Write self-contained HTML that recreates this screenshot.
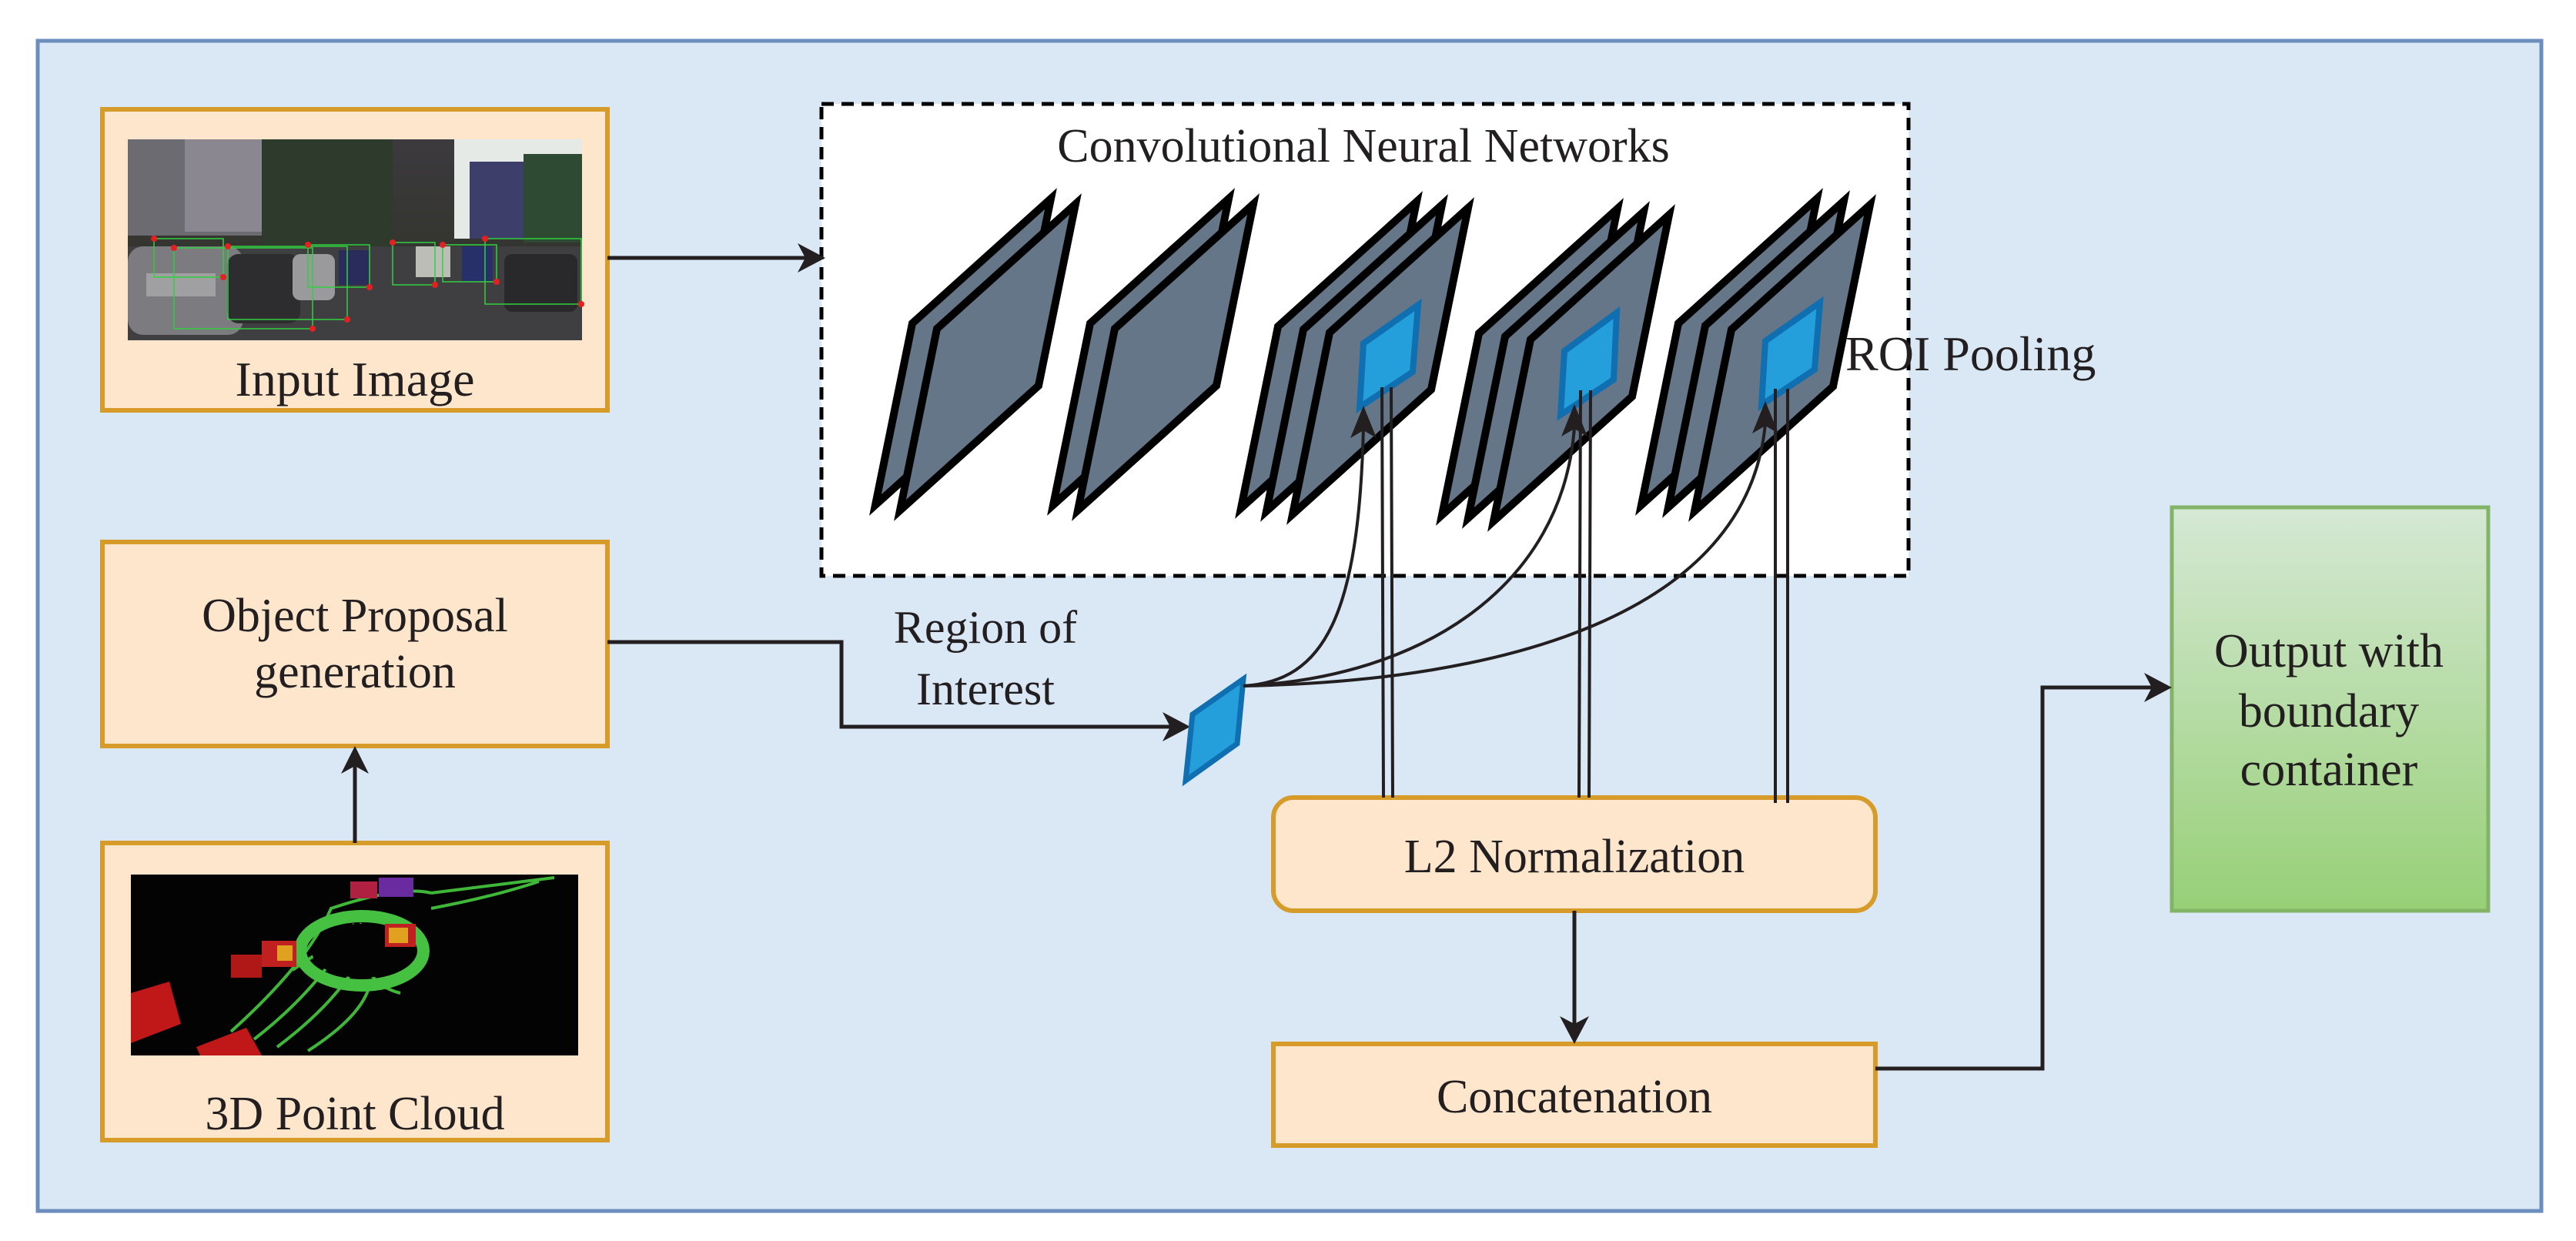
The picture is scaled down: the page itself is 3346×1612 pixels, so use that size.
<!DOCTYPE html>
<html><head><meta charset="utf-8"><style>
html,body{margin:0;padding:0;background:#fff;}
svg{display:block;font-family:"Liberation Serif","Times New Roman",serif;}
svg text{font-family:"Liberation Serif","Times New Roman",serif;fill:#231f20;}
</style></head><body>
<svg width="3346" height="1612" viewBox="0 0 3346 1612" xmlns="http://www.w3.org/2000/svg" font-family="Liberation Serif, serif">
<defs>
<linearGradient id="gr" x1="0" y1="0" x2="0" y2="1"><stop offset="0" stop-color="#d5e8d4"/><stop offset="1" stop-color="#97d077"/></linearGradient>
<linearGradient id="sky" x1="0" y1="0" x2="0" y2="1"><stop offset="0" stop-color="#3c3a3e"/><stop offset="0.55" stop-color="#34352f"/><stop offset="0.6" stop-color="#4a4a4c"/><stop offset="1" stop-color="#3a3a3c"/></linearGradient>
</defs>
<rect x="49" y="53" width="3252" height="1520" fill="#dae8f5" stroke="#6c8ebf" stroke-width="5"/>

<rect x="133" y="142" width="656" height="391" fill="#fde6cb" stroke="#d79b2a" stroke-width="6"/>
<g>
<rect x="166" y="181" width="590" height="261" fill="url(#sky)"/>
<rect x="166" y="181" width="180" height="125" fill="#6d6b72"/>
<rect x="240" y="181" width="100" height="120" fill="#8a8790"/>
<rect x="340" y="181" width="170" height="140" fill="#2e3a2c"/>
<polygon points="590,181 756,181 756,310 590,310" fill="#e6eae6"/>
<rect x="610" y="210" width="70" height="100" fill="#3d3f6a"/>
<rect x="680" y="200" width="76" height="115" fill="#2f4a33"/>
<polygon points="166,442 166,320 756,320 756,442" fill="#3f3f42"/>
<rect x="166" y="320" width="150" height="115" rx="20" fill="#7c7b7f"/>
<rect x="190" y="355" width="90" height="30" fill="#a09fa2"/>
<rect x="295" y="330" width="95" height="90" rx="15" fill="#2d2c2f"/>
<rect x="380" y="330" width="55" height="60" rx="10" fill="#9a9a9c"/>
<rect x="440" y="325" width="40" height="45" fill="#2a2d5a"/>
<rect x="540" y="320" width="45" height="40" fill="#bdbdb8"/>
<rect x="600" y="320" width="40" height="45" fill="#28306a"/>
<rect x="655" y="330" width="95" height="75" rx="10" fill="#29292b"/>
<g stroke="#30d040" stroke-width="1.5" fill="none">
<rect x="200" y="310" width="90" height="50"/><rect x="226" y="322" width="180" height="105"/><rect x="296" y="320" width="155" height="95"/><rect x="400" y="318" width="80" height="55"/><rect x="510" y="315" width="55" height="55"/><rect x="630" y="310" width="125" height="85"/><rect x="575" y="318" width="70" height="48"/>
</g>
<g fill="#e52020">
<circle cx="200" cy="310" r="4"/><circle cx="290" cy="360" r="4"/><circle cx="226" cy="322" r="4"/><circle cx="406" cy="427" r="4"/><circle cx="296" cy="320" r="4"/><circle cx="451" cy="415" r="4"/><circle cx="510" cy="315" r="4"/><circle cx="565" cy="370" r="4"/><circle cx="630" cy="310" r="4"/><circle cx="755" cy="395" r="4"/><circle cx="575" cy="318" r="4"/><circle cx="645" cy="366" r="4"/><circle cx="400" cy="318" r="4"/><circle cx="480" cy="373" r="4"/>
</g>
</g>
<text x="461" y="514" font-size="64" text-anchor="middle" font-family="Liberation Serif, serif">Input Image</text>

<rect x="1067" y="135" width="1412" height="613" fill="#fff" stroke="#000" stroke-width="5" stroke-dasharray="16,10"/>
<text x="1771" y="210" font-size="62" text-anchor="middle" font-family="Liberation Serif, serif">Convolutional Neural Networks</text>

<g fill="#647687" stroke="#000" stroke-width="10" stroke-linejoin="miter">
<polygon points="1137,656 1185,420 1365,258 1317,494"/>
<polygon points="1169,663 1217,427 1397,265 1349,501"/>
<polygon points="1368,656 1416,420 1596,258 1548,494"/>
<polygon points="1400,663 1448,427 1628,265 1580,501"/>
<polygon points="1612,660 1660,424 1840,262 1792,498"/>
<polygon points="1645,664 1693,428 1873,266 1825,502"/>
<polygon points="1679,668 1727,432 1907,270 1859,506"/>
<polygon points="1873,669 1921,433 2101,271 2053,507"/>
<polygon points="1907,673 1955,437 2135,275 2087,511"/>
<polygon points="1940,677 1988,441 2168,279 2120,515"/>
<polygon points="2132,656 2180,420 2360,258 2312,494"/>
<polygon points="2167,659 2215,423 2395,261 2347,497"/>
<polygon points="2201,664 2249,428 2429,266 2381,502"/>
</g>
<g fill="#259fdb" stroke="#0f6fb0" stroke-width="8">
<polygon points="1842,396 1771,446 1766,529 1835,483"/>
<polygon points="2100,406 2032,456 2027,539 2096,493"/>
<polygon points="2364,393 2293,443 2288,526 2357,480"/>
</g>
<text x="2397" y="481" font-size="64" font-family="Liberation Serif, serif">ROI Pooling</text>

<rect x="133" y="704" width="656" height="265" fill="#fde6cb" stroke="#d79b2a" stroke-width="6"/>
<text x="461" y="820" font-size="62" text-anchor="middle" font-family="Liberation Serif, serif">Object Proposal</text>
<text x="461" y="893" font-size="62" text-anchor="middle" font-family="Liberation Serif, serif">generation</text>

<rect x="133" y="1095" width="656" height="386" fill="#fde6cb" stroke="#d79b2a" stroke-width="6"/>
<g>
<rect x="170" y="1136" width="581" height="235" fill="#030303"/>
<g fill="none" stroke="#3fb83a" stroke-width="4">
<path d="M300,1340 Q400,1250 430,1180 Q520,1150 560,1160"/>
<path d="M330,1350 Q420,1280 460,1200"/>
<path d="M360,1360 Q440,1300 470,1240 Q480,1280 520,1290"/>
<path d="M400,1365 Q470,1320 480,1280"/>
<path d="M560,1160 Q640,1150 720,1140"/>
<path d="M560,1180 Q640,1165 700,1145"/>
<path d="M380,1260 Q440,1220 470,1200"/>
</g>
<ellipse cx="470" cy="1235" rx="80" ry="45" fill="none" stroke="#45c040" stroke-width="16"/>
<ellipse cx="470" cy="1235" rx="65" ry="35" fill="#030303"/>
<rect x="300" y="1240" width="40" height="30" fill="#b01818"/><rect x="340" y="1222" width="45" height="34" fill="#c02020"/><rect x="360" y="1228" width="20" height="20" fill="#e0a020"/>
<rect x="500" y="1200" width="40" height="30" fill="#c02020"/><rect x="505" y="1205" width="25" height="20" fill="#e0a020"/>
<rect x="492" y="1140" width="45" height="25" fill="#6a2aa0"/><rect x="455" y="1145" width="35" height="22" fill="#b02040"/>
<polygon points="170,1290 220,1275 235,1330 170,1355" fill="#c01818"/>
<polygon points="255,1360 320,1335 340,1371 260,1371" fill="#c01818"/>
</g>
<text x="461" y="1467" font-size="62" text-anchor="middle" font-family="Liberation Serif, serif">3D Point Cloud</text>

<rect x="1654" y="1036" width="782" height="147" rx="26" fill="#fde6cb" stroke="#d79b2a" stroke-width="6"/>
<text x="2045" y="1133" font-size="62" text-anchor="middle" font-family="Liberation Serif, serif">L2 Normalization</text>
<rect x="1654" y="1356" width="782" height="132" fill="#fde6cb" stroke="#d79b2a" stroke-width="6"/>
<text x="2045" y="1445" font-size="62" text-anchor="middle" font-family="Liberation Serif, serif">Concatenation</text>

<rect x="2821" y="659" width="411" height="524" fill="url(#gr)" stroke="#82b366" stroke-width="5"/>
<text x="3025" y="866" font-size="62" text-anchor="middle" font-family="Liberation Serif, serif">Output with</text>
<text x="3025" y="944" font-size="62" text-anchor="middle" font-family="Liberation Serif, serif">boundary</text>
<text x="3025" y="1020" font-size="62" text-anchor="middle" font-family="Liberation Serif, serif">container</text>

<text x="1280" y="835" font-size="60" text-anchor="middle" font-family="Liberation Serif, serif">Region of</text>
<text x="1280" y="915" font-size="60" text-anchor="middle" font-family="Liberation Serif, serif">Interest</text>

<g fill="none" stroke="#231f20" stroke-width="5">
<line x1="789" y1="335" x2="1050" y2="335"/>
<line x1="461" y1="1095" x2="461" y2="995"/>
<polyline points="789,834 1093,834 1093,944 1525,944"/>
<line x1="2045" y1="1183" x2="2045" y2="1335"/>
<polyline points="2436,1388 2653,1388 2653,893 2800,893"/>
</g>
<g fill="#231f20">
<path d="M1072,335 L1036,316 L1046,335 L1036,354 Z"/>
<path d="M461,969 L443,1005 L461,995 L479,1005 Z"/>
<path d="M1546,944 L1510,925 L1520,944 L1510,963 Z"/>
<path d="M2045,1356 L2026,1320 L2045,1330 L2064,1320 Z"/>
<path d="M2821,893 L2785,874 L2795,893 L2785,912 Z"/>
</g>

<polygon points="1615,882 1549,928 1540,1014 1607,966" fill="#259fdb" stroke="#0f6fb0" stroke-width="7"/>

<g stroke="#231f20" stroke-width="4">
<line x1="1795" y1="503" x2="1797" y2="1036"/><line x1="1807" y1="503" x2="1809" y2="1036"/>
<line x1="2053" y1="507" x2="2051" y2="1036"/><line x1="2066" y1="507" x2="2064" y2="1036"/>
<line x1="2306" y1="505" x2="2306" y2="1043"/><line x1="2322" y1="505" x2="2322" y2="1043"/>
</g>
<g fill="none" stroke="#231f20" stroke-width="4">
<path d="M1615,891 C1720,885 1765,800 1771,555"/>
<path d="M1615,891 C1850,880 2030,760 2045,555"/>
<path d="M1615,891 C1950,885 2270,800 2293,550"/>
</g>
<g fill="#231f20">
<path d="M1771,527 L1754,569 L1771,559 L1788,569 Z"/>
<path d="M2045,525 L2028,567 L2045,557 L2062,567 Z"/>
<path d="M2293,521 L2276,563 L2293,553 L2310,563 Z"/>
</g>
</svg>
</body></html>
